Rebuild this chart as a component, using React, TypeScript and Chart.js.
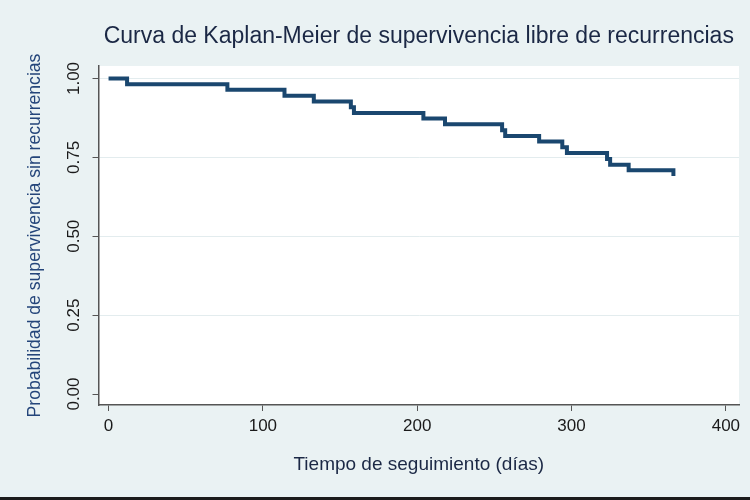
import React, { useEffect, useRef } from "react";
import { Chart, registerables } from "chart.js";

Chart.register(...registerables);

const chartTitle = "Curva de Kaplan-Meier de supervivencia libre de recurrencias";
const xAxisTitle = "Tiempo de seguimiento (días)";
const yAxisTitle = "Probabilidad de supervivencia sin recurrencias";

// Kaplan-Meier step points (time in days, survival after the event)
const times = [0, 12, 77, 114, 133, 157, 159, 204, 218, 255, 257, 279, 294, 297, 323, 325, 337, 366];
const survival = [1.0, 0.982, 0.964, 0.945, 0.927, 0.909, 0.891, 0.873, 0.855, 0.836, 0.818, 0.8, 0.782, 0.764, 0.745, 0.727, 0.709, 0.691];

const xTickValues = [0, 100, 200, 300, 400];
const xTickLabels = ["0", "100", "200", "300", "400"];
const yTickValues = [0, 0.25, 0.5, 0.75, 1];
const yTickLabels = ["0.00", "0.25", "0.50", "0.75", "1.00"];

const FONT = '"Liberation Sans", Arial, Helvetica, sans-serif';
const BG = "#EAF2F3";
const AXIS = "#555555";

const stataBackground = {
  id: "stataBackground",
  beforeDraw(chart: any) {
    const { ctx, chartArea, width, height } = chart;
    ctx.save();
    ctx.fillStyle = BG;
    ctx.fillRect(0, 0, width, height);
    ctx.fillStyle = "#FFFFFF";
    ctx.fillRect(chartArea.left, chartArea.top, chartArea.right - chartArea.left, chartArea.bottom - chartArea.top);
    ctx.restore();
  },
  afterDraw(chart: any) {
    const { ctx, width, height } = chart;
    ctx.save();
    ctx.fillStyle = "#1c1c1c";
    ctx.fillRect(0, height - 3, width, 3);
    ctx.restore();
  },
};

export default function App() {
  const ref = useRef<HTMLCanvasElement>(null);

  useEffect(() => {
    if (!ref.current) return;
    const chart = new Chart(ref.current, {
      type: "line",
      data: {
        datasets: [
          {
            data: times.map((t, i) => ({ x: t, y: survival[i] })),
            borderColor: "#1A476F",
            backgroundColor: "#1A476F",
            borderWidth: 4,
            stepped: "before",
            pointRadius: 0,
            fill: false,
            borderCapStyle: "butt",
            borderJoinStyle: "miter",
          },
        ],
      },
      options: {
        responsive: false,
        animation: false,
        devicePixelRatio: 1,
        layout: { padding: { left: 0, right: 11, top: 0, bottom: 0 } },
        plugins: {
          legend: { display: false },
          tooltip: { enabled: false },
          title: {
            display: true,
            text: chartTitle,
            fullSize: false,
            color: "#1B2845",
            font: { family: FONT, size: 23, weight: "normal" },
            padding: { top: 23, bottom: 15.4 },
          },
        },
        scales: {
          x: {
            type: "linear",
            min: -6.5,
            max: 408.5,
            afterBuildTicks: (s: any) => {
              s.ticks = xTickValues.map((v) => ({ value: v }));
            },
            ticks: {
              font: { family: FONT, size: 17 },
              color: "#1a1a1a",
              padding: 5,
              maxRotation: 0,
              autoSkip: false,
              callback: (v: any) => {
                const i = xTickValues.indexOf(Number(v));
                return i >= 0 ? xTickLabels[i] : "";
              },
            },
            grid: { drawOnChartArea: false, tickLength: 6, tickColor: AXIS },
            border: { color: AXIS, width: 1.5 },
            title: {
              display: true,
              text: xAxisTitle,
              color: "#1B2845",
              font: { family: FONT, size: 19 },
              padding: { top: 11.8, bottom: 24 },
            },
          },
          y: {
            type: "linear",
            min: -0.0348,
            max: 1.0396,
            afterBuildTicks: (s: any) => {
              s.ticks = yTickValues.map((v) => ({ value: v }));
            },
            ticks: {
              font: { family: FONT, size: 17 },
              color: "#1a1a1a",
              padding: 1.5,
              minRotation: 90,
              maxRotation: 90,
              crossAlign: "center",
              autoSkip: false,
              callback: (v: any) => {
                const i = yTickValues.indexOf(Number(v));
                return i >= 0 ? yTickLabels[i] : "";
              },
            },
            grid: {
              color: (c: any) => (c.tick && c.tick.value === 0 ? "rgba(0,0,0,0)" : "#E3ECEE"),
              lineWidth: 1,
              tickLength: 6,
              tickColor: AXIS,
            },
            border: { color: AXIS, width: 1.5 },
            title: {
              display: true,
              text: yAxisTitle,
              color: "#24457A",
              font: { family: FONT, size: 17.6 },
              padding: { top: 25, bottom: 23 },
            },
          },
        },
      },
      plugins: [stataBackground],
    } as any);
    return () => chart.destroy();
  }, []);

  return (
    <div style={{ position: "absolute", left: 0, top: 0, width: 750, height: 500 }}>
      <canvas ref={ref} width={750} height={500} style={{ display: "block" }} />
    </div>
  );
}
